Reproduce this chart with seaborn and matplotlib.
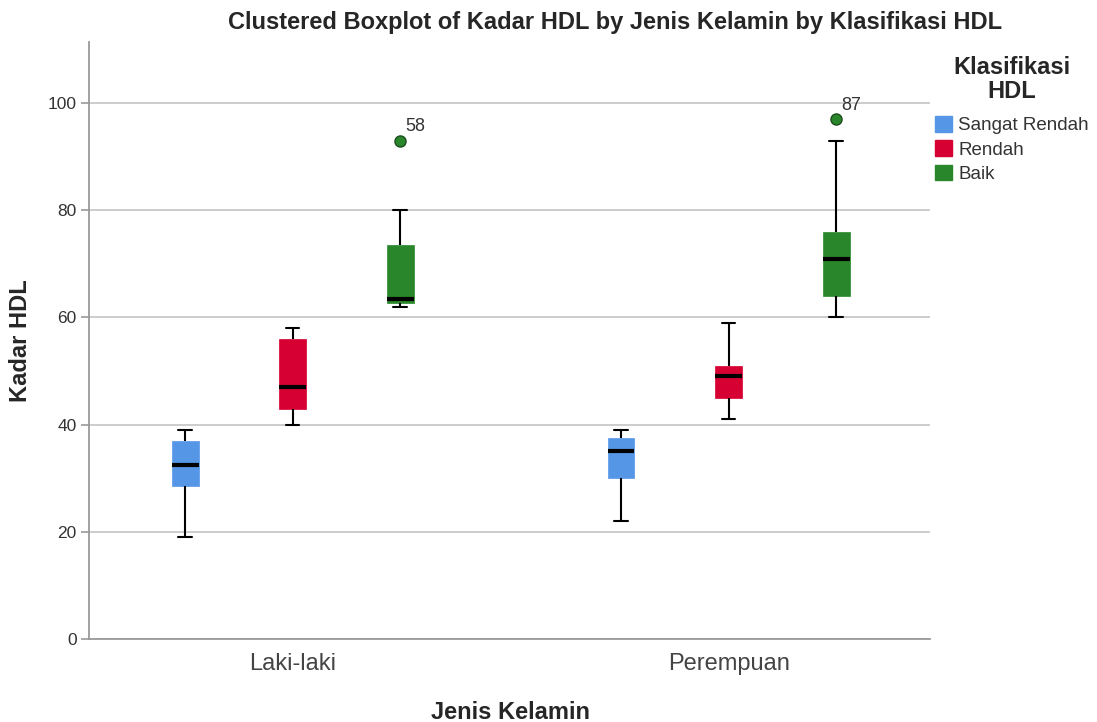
import matplotlib
matplotlib.use("Agg")
import matplotlib.pyplot as plt
import seaborn as sns
import pandas as pd
from matplotlib.patches import Patch

# ---- data ----
groups = ["Laki-laki", "Perempuan"]
classes = ["Sangat Rendah", "Rendah", "Baik"]
colors = ["#5597e6", "#d60032", "#2a862a"]

# five-number summaries [Laki-laki, Perempuan] per class
mins    = {"Sangat Rendah": [19, 22], "Rendah": [40, 41], "Baik": [62, 60]}
q1s     = {"Sangat Rendah": [28.5, 30], "Rendah": [43, 45], "Baik": [62.75, 64]}
medians = {"Sangat Rendah": [32.5, 35], "Rendah": [47, 49], "Baik": [63.5, 71]}
q3s     = {"Sangat Rendah": [37, 37.5], "Rendah": [56, 51], "Baik": [73.5, 76]}
maxs    = {"Sangat Rendah": [39, 39], "Rendah": [58, 59], "Baik": [80, 93]}
outliers = {"Baik": [93, 97]}
outlier_ids = ["58", "87"]

# build sample table whose quartiles reproduce the summaries
rows = []
for c in classes:
    for gi, g in enumerate(groups):
        lo, a, m, b, hi = mins[c][gi], q1s[c][gi], medians[c][gi], q3s[c][gi], maxs[c][gi]
        if c in outliers:
            vals = [lo, a, a, m, m, m, b, hi, outliers[c][gi]]
        else:
            vals = [lo, a, a, m, m, m, b, b, hi]
        for v in vals:
            rows.append({"Jenis Kelamin": g, "Klasifikasi HDL": c, "Kadar HDL": v})
df = pd.DataFrame(rows)

sns.set_style("white")
plt.rcParams["font.family"] = ["Liberation Sans", "DejaVu Sans"]

fig = plt.figure(figsize=(10.97, 7.22), dpi=100)
ax = fig.add_axes([89/1097, 83/722, (930-89)/1097, (639-42)/722])

# gridlines
ax.set_axisbelow(True)
ax.yaxis.grid(True, color="#c8c8c8", linewidth=1.3)

sns.boxplot(
    data=df, x="Jenis Kelamin", y="Kadar HDL", hue="Klasifikasi HDL",
    order=groups, hue_order=classes, palette=colors,
    width=0.74, gap=0.75, linecolor="black", linewidth=1.5,
    medianprops=dict(color="black", linewidth=3),
    flierprops=dict(marker="o", markerfacecolor="#2a862a", markeredgecolor="#1d4d1d",
                    markersize=8, markeredgewidth=1),
    saturation=1, legend=False, ax=ax,
)

for p in ax.patches:
    p.set_edgecolor(p.get_facecolor())
    p.set_linewidth(0.5)

# outlier labels
fl = [l for l in ax.lines if l.get_marker() == "o" and len(l.get_xdata()) > 0]
fl_pts = sorted([(l.get_xdata()[0], l.get_ydata()[0]) for l in fl])
for (xv, yv), lab in zip(fl_pts, outlier_ids):
    ax.annotate(lab, (xv, yv), xytext=(4, 4), textcoords="offset points",
                ha="left", va="bottom", fontsize=13, color="#333333")

ax.set_ylim(0, 111.4)
ax.set_xlim(-0.467, 1.462)
ax.set_yticks([0, 20, 40, 60, 80, 100])
ax.tick_params(axis="y", length=6, color="#9a9a9a", width=1.2, labelsize=12.5,
               labelcolor="#333333", pad=3, left=True)
ax.tick_params(axis="x", length=0, labelsize=17, labelcolor="#444444", pad=10)

for s in ["top", "right"]:
    ax.spines[s].set_visible(False)
for s in ["left", "bottom"]:
    ax.spines[s].set_color("#9a9a9a")
    ax.spines[s].set_linewidth(1.3)

ax.set_xlabel("Jenis Kelamin", fontsize=17, fontweight="bold", va="baseline")
ax.xaxis.set_label_coords((511 - 89) / 841, -(719 - 639) / 597)
ax.set_ylabel("Kadar HDL", fontsize=17, fontweight="bold", va="center")
ax.yaxis.set_label_coords((20 - 89) / 841, (639 - 341) / 597)

fig.text(615/1097, 1 - 23/722, "Clustered Boxplot of Kadar HDL by Jenis Kelamin by Klasifikasi HDL",
         ha="center", va="center", fontsize=17, fontweight="bold")

handles = [Patch(facecolor=c, edgecolor=c) for c in colors]
leg = fig.legend(handles, classes, title="Klasifikasi\nHDL", loc="upper left",
                 bbox_to_anchor=(935/1097, 1 - 56/722), frameon=False,
                 fontsize=13.5, title_fontproperties={"weight": "bold", "size": 17},
                 handlelength=0.9, handleheight=0.9, handletextpad=0.35,
                 labelspacing=0.33, alignment="center", borderaxespad=0, borderpad=0)
leg.get_title().set_multialignment("center")
leg.get_title().set_linespacing(1.05)
leg._legend_box.sep = 0.33 * 13.5 + 5
for t in leg.get_texts():
    t.set_color("#333333")

fig.savefig("out.png", dpi=100)
